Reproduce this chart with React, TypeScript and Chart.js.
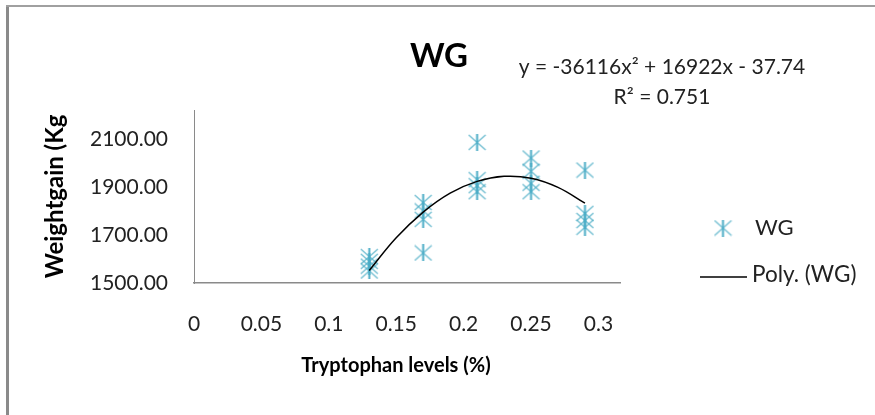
import React, { useEffect, useRef } from "react";
import { Chart, registerables } from "chart.js";

Chart.register(...registerables);

// ---- Data ----
const trpLevels = [
  0.13, 0.13, 0.13, 0.13,
  0.17, 0.17, 0.17, 0.17,
  0.21, 0.21, 0.21, 0.21,
  0.25, 0.25, 0.25, 0.25,
  0.29, 0.29, 0.29, 0.29,
];
const weightGain = [
  1610, 1590, 1570, 1550,
  1835, 1800, 1765, 1625,
  2085, 1930, 1905, 1880,
  2020, 1965, 1915, 1880,
  1970, 1790, 1760, 1732,
];
const trendX = [0.13, 0.15, 0.17, 0.19, 0.21, 0.23, 0.25, 0.27, 0.29];
const trendY = [1552, 1688, 1795, 1874, 1923, 1944, 1936, 1898, 1832];

const xTicks = [0, 0.05, 0.1, 0.15, 0.2, 0.25, 0.3];
const xTickLabels = ["0", "0.05", "0.1", "0.15", "0.2", "0.25", "0.3"];
const yTicks = [1500, 1700, 1900, 2100];
const yTickLabels = ["1500.00", "1700.00", "1900.00", "2100.00"];

const chartTitle = "WG";
const equationText = "y = -36116x² + 16922x - 37.74";
const r2Text = "R² = 0.751";
const xTitle = "Tryptophan levels (%)";
const yTitle = "Weightgain (Kg";
const seriesLabel = "WG";
const trendLabel = "Poly. (WG)";

const FONT = "Lato, 'Open Sans', sans-serif";
const MARK = "#4BACC6";

function makeStar(): HTMLCanvasElement {
  const c = document.createElement("canvas");
  c.width = 19;
  c.height = 17;
  const ctx = c.getContext("2d")!;
  ctx.strokeStyle = "rgba(75,172,198,0.8)";
  ctx.lineWidth = 1.3;
  ctx.beginPath();
  ctx.moveTo(1, 1);
  ctx.lineTo(18, 16);
  ctx.moveTo(18, 1);
  ctx.lineTo(1, 16);
  ctx.stroke();
  ctx.strokeStyle = MARK;
  ctx.lineWidth = 2;
  ctx.beginPath();
  ctx.moveTo(9.5, 0);
  ctx.lineTo(9.5, 17);
  ctx.stroke();
  return c;
}

export default function App() {
  const ref = useRef<HTMLCanvasElement | null>(null);

  useEffect(() => {
    document.body.style.margin = "0";
    const canvas = ref.current!;
    const star = makeStar();

    const decor = {
      id: "decor",
      beforeDraw(chart: any) {
        const ctx = chart.ctx;
        ctx.save();
        ctx.fillStyle = "#ffffff";
        ctx.fillRect(0, 0, chart.width, chart.height);
        // outer frame (left and top)
        ctx.fillStyle = "#8a8a8a";
        ctx.fillRect(6, 5, 3, chart.height - 5);
        ctx.fillStyle = "#a0a0a0";
        ctx.fillRect(6, 5, chart.width - 6, 2);
        ctx.restore();
      },
      afterDraw(chart: any) {
        const ctx = chart.ctx;
        ctx.save();
        ctx.fillStyle = "#000";
        ctx.textBaseline = "middle";
        ctx.textAlign = "center";
        ctx.font = `bold 33px ${FONT}`;
        ctx.fillText(chartTitle, 439, 56);
        ctx.font = `bold 20px ${FONT}`;
        ctx.fillText(xTitle, 396, 366);
        ctx.font = `21px ${FONT}`;
        ctx.fillStyle = "#222";
        ctx.fillText(equationText, 662, 67);
        ctx.fillText(r2Text, 662, 97);

        // legend
        ctx.drawImage(star, 723 - star.width / 2, 228 - star.height / 2);
        ctx.textAlign = "left";
        ctx.font = `22px ${FONT}`;
        ctx.fillText(seriesLabel, 755, 228);
        ctx.strokeStyle = "#000";
        ctx.lineWidth = 1.5;
        ctx.beginPath();
        ctx.moveTo(700, 277);
        ctx.lineTo(747, 277);
        ctx.stroke();
        ctx.font = `22.5px ${FONT}`;
        ctx.fillText(trendLabel, 752, 275);
        ctx.restore();
      },
    };

    const chart = new Chart(canvas, {
      type: "scatter",
      data: {
        datasets: [
          {
            label: trendLabel,
            type: "line",
            data: trendX.map((x, i) => ({ x, y: trendY[i] })),
            borderColor: "#000",
            borderWidth: 1.5,
            pointRadius: 0,
            tension: 0.4,
            fill: false,
          },
          {
            label: seriesLabel,
            data: trpLevels.map((x, i) => ({ x, y: weightGain[i] })),
            pointStyle: star,
            pointRadius: 9,
            borderColor: MARK,
            backgroundColor: MARK,
          },
        ],
      },
      plugins: [decor],
      options: {
        responsive: false,
        animation: false,
        layout: { padding: { left: 40, right: 255, top: 110, bottom: 20 } },
        plugins: {
          legend: { display: false },
          tooltip: { enabled: false },
          title: { display: false },
        },
        scales: {
          x: {
            type: "linear",
            min: 0,
            max: 0.316,
            afterBuildTicks: (s: any) => {
              s.ticks = xTicks.map((v) => ({ value: v }));
            },
            afterFit: (s: any) => {
              s.height = 112;
            },
            ticks: {
              padding: 29,
              color: "#222",
              font: { family: FONT, size: 21 },
              callback: (v: any) => {
                const i = xTicks.findIndex((t) => Math.abs(t - v) < 1e-9);
                return i >= 0 ? xTickLabels[i] : "";
              },
            },
            grid: { display: false, drawTicks: false },
            border: { display: true, color: "#8a8a8a", width: 1.5 },
            title: { display: false },
          },
          y: {
            type: "linear",
            min: 1500,
            max: 2220,
            afterBuildTicks: (s: any) => {
              s.ticks = yTicks.map((v) => ({ value: v }));
            },
            afterFit: (s: any) => {
              s.width = 154;
            },
            ticks: {
              padding: 26,
              color: "#222",
              font: { family: FONT, size: 21 },
              callback: (v: any) => {
                const i = yTicks.indexOf(v);
                return i >= 0 ? yTickLabels[i] : "";
              },
            },
            grid: { display: false, drawTicks: false },
            border: { display: true, color: "#8a8a8a", width: 1 },
            title: {
              display: true,
              text: yTitle,
              color: "#000",
              font: { family: FONT, size: 24, weight: "bold" },
              padding: { top: 1, bottom: 0 },
            },
          },
        },
      },
    });
    return () => chart.destroy();
  }, []);

  return (
    <div style={{ width: 875, height: 415, background: "#fff" }}>
      <canvas ref={ref} width={875} height={415} style={{ display: "block" }} />
    </div>
  );
}
